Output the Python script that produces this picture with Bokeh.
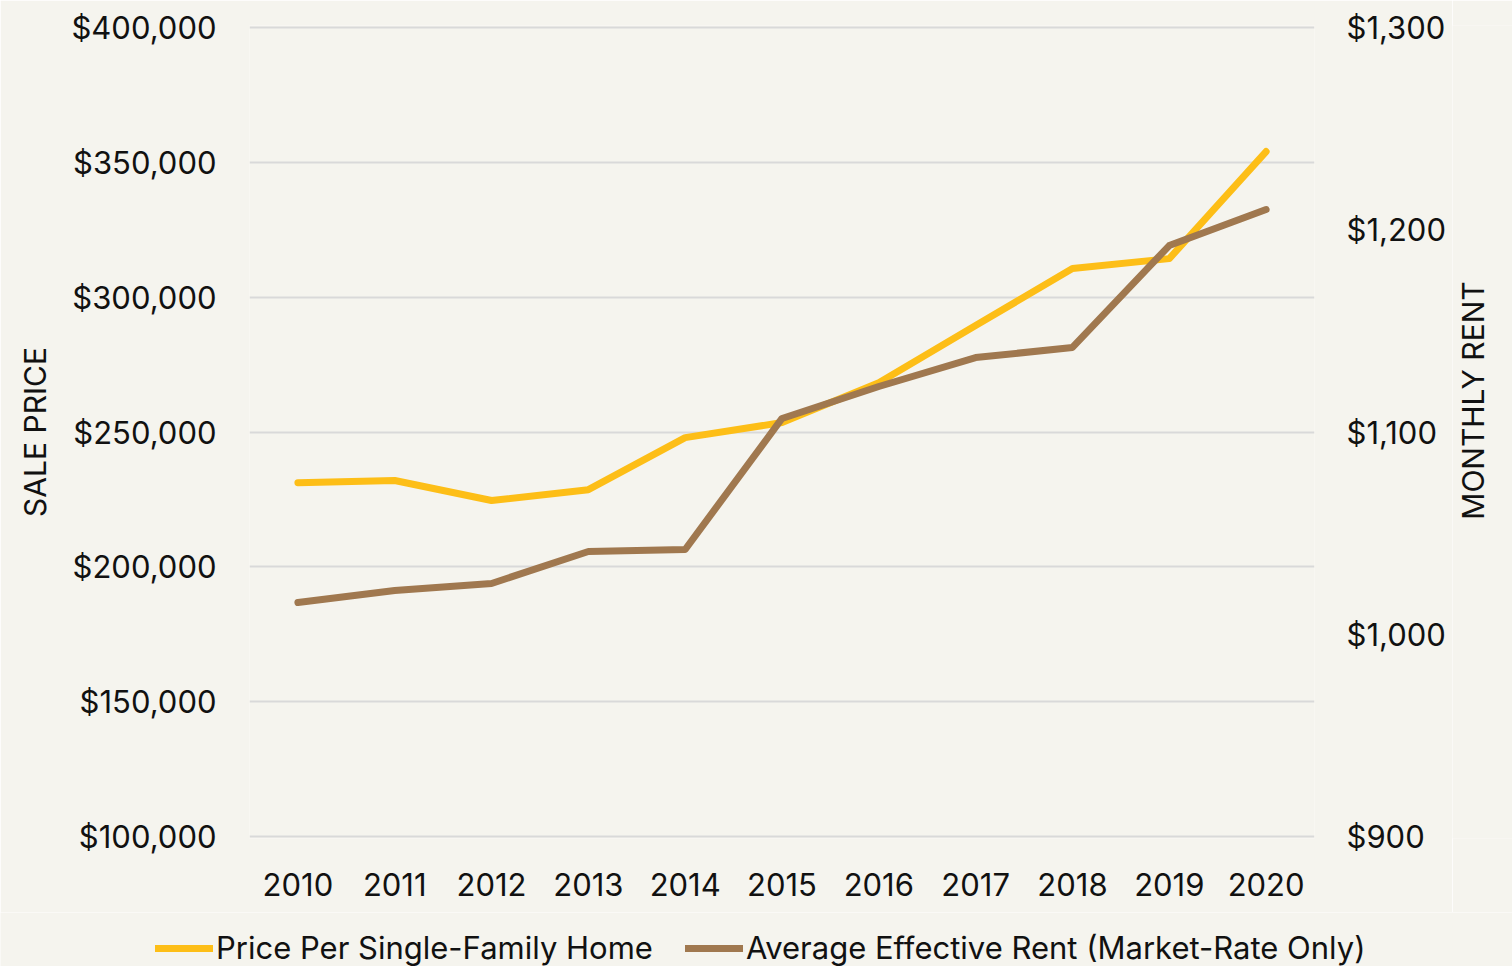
import math
from bokeh.plotting import figure
from bokeh.layouts import column, row
from bokeh.models import (FactorRange, Range1d, LinearAxis, NumeralTickFormatter,
                          FixedTicker, Legend, LegendItem, Label)
from bokeh.embed import file_html
from bokeh.resources import INLINE

years = ["2010", "2011", "2012", "2013", "2014", "2015", "2016", "2017", "2018", "2019", "2020"]
sale_price = [231200, 232000, 224600, 228600, 247900, 253500, 268300, 289500, 310600, 314300, 354000]
monthly_rent = [1015.7, 1021.6, 1025.1, 1040.9, 1041.9, 1106.7, 1122.5, 1136.8, 1141.8, 1192.2, 1210.0]
price_ticks = [100000, 150000, 200000, 250000, 300000, 350000, 400000]
rent_ticks = [900, 1000, 1100, 1200, 1300]
series_names = ["Price Per Single-Family Home", "Average Effective Rent (Market-Rate Only)"]

BG = "#F5F4EE"
FONT = "Inter"
TEXT = "#111111"
YELLOW = "#FDBE17"
BROWN = "#A0784F"

MAIN_W, MAIN_H = 1452, 912
LAB_W = 60
FRAME_BOTTOM = 838

p = figure(width=MAIN_W, height=MAIN_H, x_range=FactorRange(*years),
           y_range=Range1d(99250, 400750), output_backend="svg",
           toolbar_location=None, background_fill_color=BG,
           border_fill_color=BG, outline_line_color=None,
           min_border_left=249, min_border_right=MAIN_W - 1314,
           min_border_top=25, min_border_bottom=MAIN_H - FRAME_BOTTOM)
p.extra_y_ranges = {"rent": Range1d(899, 1301)}
p.x_range.range_padding = 0

p.line(years, sale_price, line_color=YELLOW, line_width=7,
       line_cap="round", line_join="round")
p.line(years, monthly_rent, line_color=BROWN, line_width=7,
       line_cap="round", line_join="round", y_range_name="rent")

def style_axis(ax):
    ax.axis_line_color = None
    ax.major_tick_line_color = None
    ax.minor_tick_line_color = None
    ax.major_tick_out = 0
    ax.major_tick_in = 0
    ax.minor_tick_out = 0
    ax.minor_tick_in = 0
    ax.major_label_text_font = FONT
    ax.major_label_text_font_size = "31px"
    ax.major_label_text_color = TEXT
    ax.axis_label_text_font = FONT
    ax.axis_label_text_font_size = "30px"
    ax.axis_label_text_font_style = "normal"
    ax.axis_label_text_color = TEXT

yl = p.yaxis[0]
yl.ticker = FixedTicker(ticks=price_ticks)
yl.formatter = NumeralTickFormatter(format="$0,0")
yl.axis_label = "SALE PRICE"
style_axis(yl)
yl.major_label_standoff = 33
yl.axis_label_standoff = 15

xr = p.xaxis[0]
style_axis(xr)
xr.major_label_standoff = 34

yr = LinearAxis(y_range_name="rent", ticker=FixedTicker(ticks=rent_ticks),
                formatter=NumeralTickFormatter(format="$0,0"))
style_axis(yr)
yr.major_label_standoff = 32
p.add_layout(yr, "right")

p.xgrid.grid_line_color = None
p.ygrid.ticker = FixedTicker(ticks=price_ticks)
p.ygrid.grid_line_color = "#D9D9D9"
p.ygrid.grid_line_width = 2

# right-hand axis title (reads bottom to top); its frame is aligned with the main frame
lab = figure(width=LAB_W, height=MAIN_H, x_range=Range1d(0, 1), y_range=Range1d(0, 1),
             output_backend="svg", toolbar_location=None, min_border=0,
             x_axis_type=None, y_axis_type=None, outline_line_color=None,
             background_fill_color=BG, border_fill_color=BG)
lab.add_layout(Label(x=1472 - MAIN_W, y=FRAME_BOTTOM - 400, x_units="screen", y_units="screen",
                     text="MONTHLY RENT", angle=math.pi / 2, text_align="center",
                     text_baseline="middle", text_font=FONT, text_font_size="30px",
                     text_color=TEXT))

# legend strip
leg = figure(width=MAIN_W + LAB_W, height=54, x_range=Range1d(0, 1), y_range=Range1d(0, 1),
             output_backend="svg", toolbar_location=None, min_border=0,
             x_axis_type=None, y_axis_type=None, outline_line_color=None,
             background_fill_color=BG, border_fill_color=BG)
# keys: same series, far outside this strip's visible range (only their legend glyphs show)
k1 = leg.line(list(range(len(years))), sale_price, line_color=YELLOW, line_width=7, line_cap="round")
k2 = leg.line(list(range(len(years))), monthly_rent, line_color=BROWN, line_width=7, line_cap="round")
legend = Legend(items=[LegendItem(label=series_names[0], renderers=[k1]),
                       LegendItem(label=series_names[1], renderers=[k2])],
                orientation="horizontal", location=(155, 0),
                background_fill_alpha=0, border_line_color=None,
                padding=0, margin=0, spacing=32, label_standoff=3,
                glyph_width=58, glyph_height=36, label_height=36,
                label_text_font=FONT, label_text_font_size="31px",
                label_text_color=TEXT)
leg.add_layout(legend, "center")

layout = column(row(p, lab), leg)
open("out.html", "w").write(file_html(layout, INLINE))
